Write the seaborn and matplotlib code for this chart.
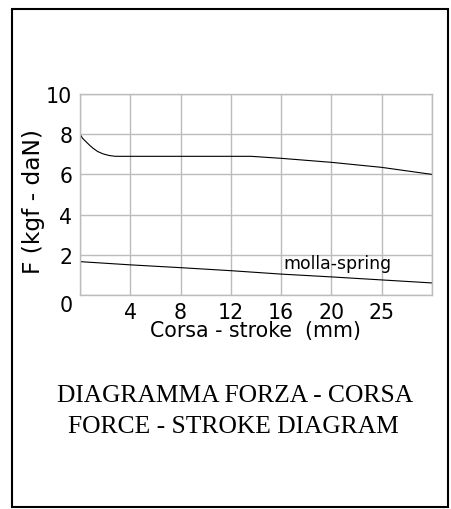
import matplotlib
matplotlib.use("Agg")
import matplotlib.pyplot as plt
import seaborn as sns
import pandas as pd
from matplotlib.patches import Rectangle

# x positions are in grid columns (the scale is labelled 4, 8, 12, 16, 20, 25)
force_x = [0, 0.05, 0.13, 0.2, 0.26, 0.35, 0.46, 0.58, 0.7, 1, 2, 3, 3.4, 4, 5, 6, 7]
force_y = [8.0, 7.8, 7.6, 7.43, 7.3, 7.14, 7.02, 6.94, 6.9, 6.9, 6.9, 6.9, 6.9, 6.8, 6.6, 6.35, 6.0]
spring_x = [0, 1, 2, 3, 4, 5, 6, 7]
spring_y = [1.66, 1.5, 1.36, 1.21, 1.04, 0.9, 0.75, 0.6]
xtick_pos = [1, 2, 3, 4, 5, 6]
xtick_labels = ["4", "8", "12", "16", "20", "25"]
ytick_vals = [0, 2, 4, 6, 8, 10]

sns.set_style("white")
plt.rcParams['font.family'] = ['DejaVu Sans']
plt.rcParams['text.color'] = 'black'
plt.rcParams['axes.labelcolor'] = 'black'

fig = plt.figure(figsize=(4.51, 5.10), dpi=100)
ax = fig.add_axes([80/451, 1 - 296/510, 352/451, 201/510])

df_force = pd.DataFrame({"x": force_x, "y": force_y})
df_spring = pd.DataFrame({"x": spring_x, "y": spring_y})
sns.lineplot(data=df_force, x="x", y="y", ax=ax, color="black", linewidth=0.8, sort=False)
sns.lineplot(data=df_spring, x="x", y="y", ax=ax, color="black", linewidth=0.8, sort=False)

ax.set_xlim(0, 7)
ax.set_ylim(0, 10)
ax.set_xticks([0] + xtick_pos + [7])
ax.set_xticklabels([""] + xtick_labels + [""])
ax.set_yticks(ytick_vals)
ax.set_yticklabels([str(v) for v in ytick_vals])
ax.grid(True, color="#bcbcbc", linewidth=1.0)
for s in ax.spines.values():
    s.set_color("#bcbcbc")
    s.set_linewidth(1.0)
ax.tick_params(axis="both", length=0, labelsize=14.8, colors="black")
ax.tick_params(axis="y", pad=5.5)
ax.tick_params(axis="x", pad=4.8)
ax.get_yticklabels()[0].set_verticalalignment("top")

ax.set_xlabel("Corsa - stroke  (mm)", fontsize=14.8, labelpad=-1)
ax.set_ylabel("F (kgf - daN)", fontsize=16.8)
ax.yaxis.set_label_coords(-(80 - 45) / 352, 0.47)

ax.text(4.04, 1.6, "molla-spring", fontsize=12.4, va="center", ha="left")

fig.text(235/451, 1 - 396/510, "DIAGRAMMA FORZA - CORSA", family="Liberation Serif",
         fontsize=18.4, ha="center", va="center")
fig.text(233/451, 1 - 427/510, "FORCE - STROKE DIAGRAM", family="Liberation Serif",
         fontsize=18.4, ha="center", va="center")

fig.patches.append(Rectangle((12/451, 2/510), 436/451, 498/510, transform=fig.transFigure,
                             fill=False, edgecolor="black", linewidth=1.5))

fig.savefig("out.png", dpi=100)
